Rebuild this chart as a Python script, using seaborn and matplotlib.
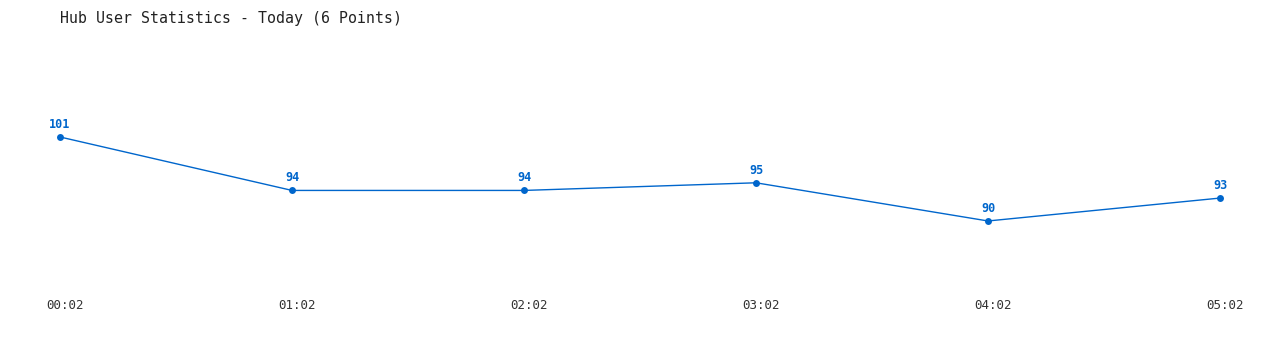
import matplotlib
matplotlib.use("Agg")
import matplotlib.pyplot as plt
import matplotlib.transforms as mtransforms
import seaborn as sns
import pandas as pd

times = ["00:02", "01:02", "02:02", "03:02", "04:02", "05:02"]
users = [101, 94, 94, 95, 90, 93]
title = "Hub User Statistics - Today (6 Points)"

sns.set_style("white")
plt.rcParams['font.family'] = ['DejaVu Sans Mono']

df = pd.DataFrame({"pos": range(len(times)), "users": users})
color = "#0066cc"

fig = plt.figure(figsize=(12.8, 3.5), dpi=100)
ax = fig.add_axes([60/1280, 0.2, 1160/1280, 240/350])
sns.lineplot(data=df, x="pos", y="users", ax=ax, color=color, linewidth=1,
             marker="o", markersize=5, markeredgewidth=0, clip_on=False)
for x, v in zip(df["pos"], users):
    ax.annotate(str(v), (x, v), xytext=(0, 4.5), textcoords="offset points",
                ha="center", va="bottom", fontsize=8.5, fontweight="bold", color=color)
ax.set_xlim(0, 5)
ax.set_ylim(82.27, 113.7)
ax.set_xticks(range(len(times)))
ax.set_xticklabels(times, fontsize=9, color="#333333")
ax.tick_params(axis="x", length=0, pad=14)
offset = mtransforms.ScaledTranslation(5/100, 0, fig.dpi_scale_trans)
for lbl in ax.get_xticklabels():
    lbl.set_transform(lbl.get_transform() + offset)
ax.set_yticks([])
ax.set_xlabel("")
ax.set_ylabel("")
for s in ax.spines.values():
    s.set_visible(False)
fig.text(60/1280, 1 - 18/350, title, fontsize=10.75, color="#222222", va="center", ha="left")
fig.savefig("out.png", dpi=100)
